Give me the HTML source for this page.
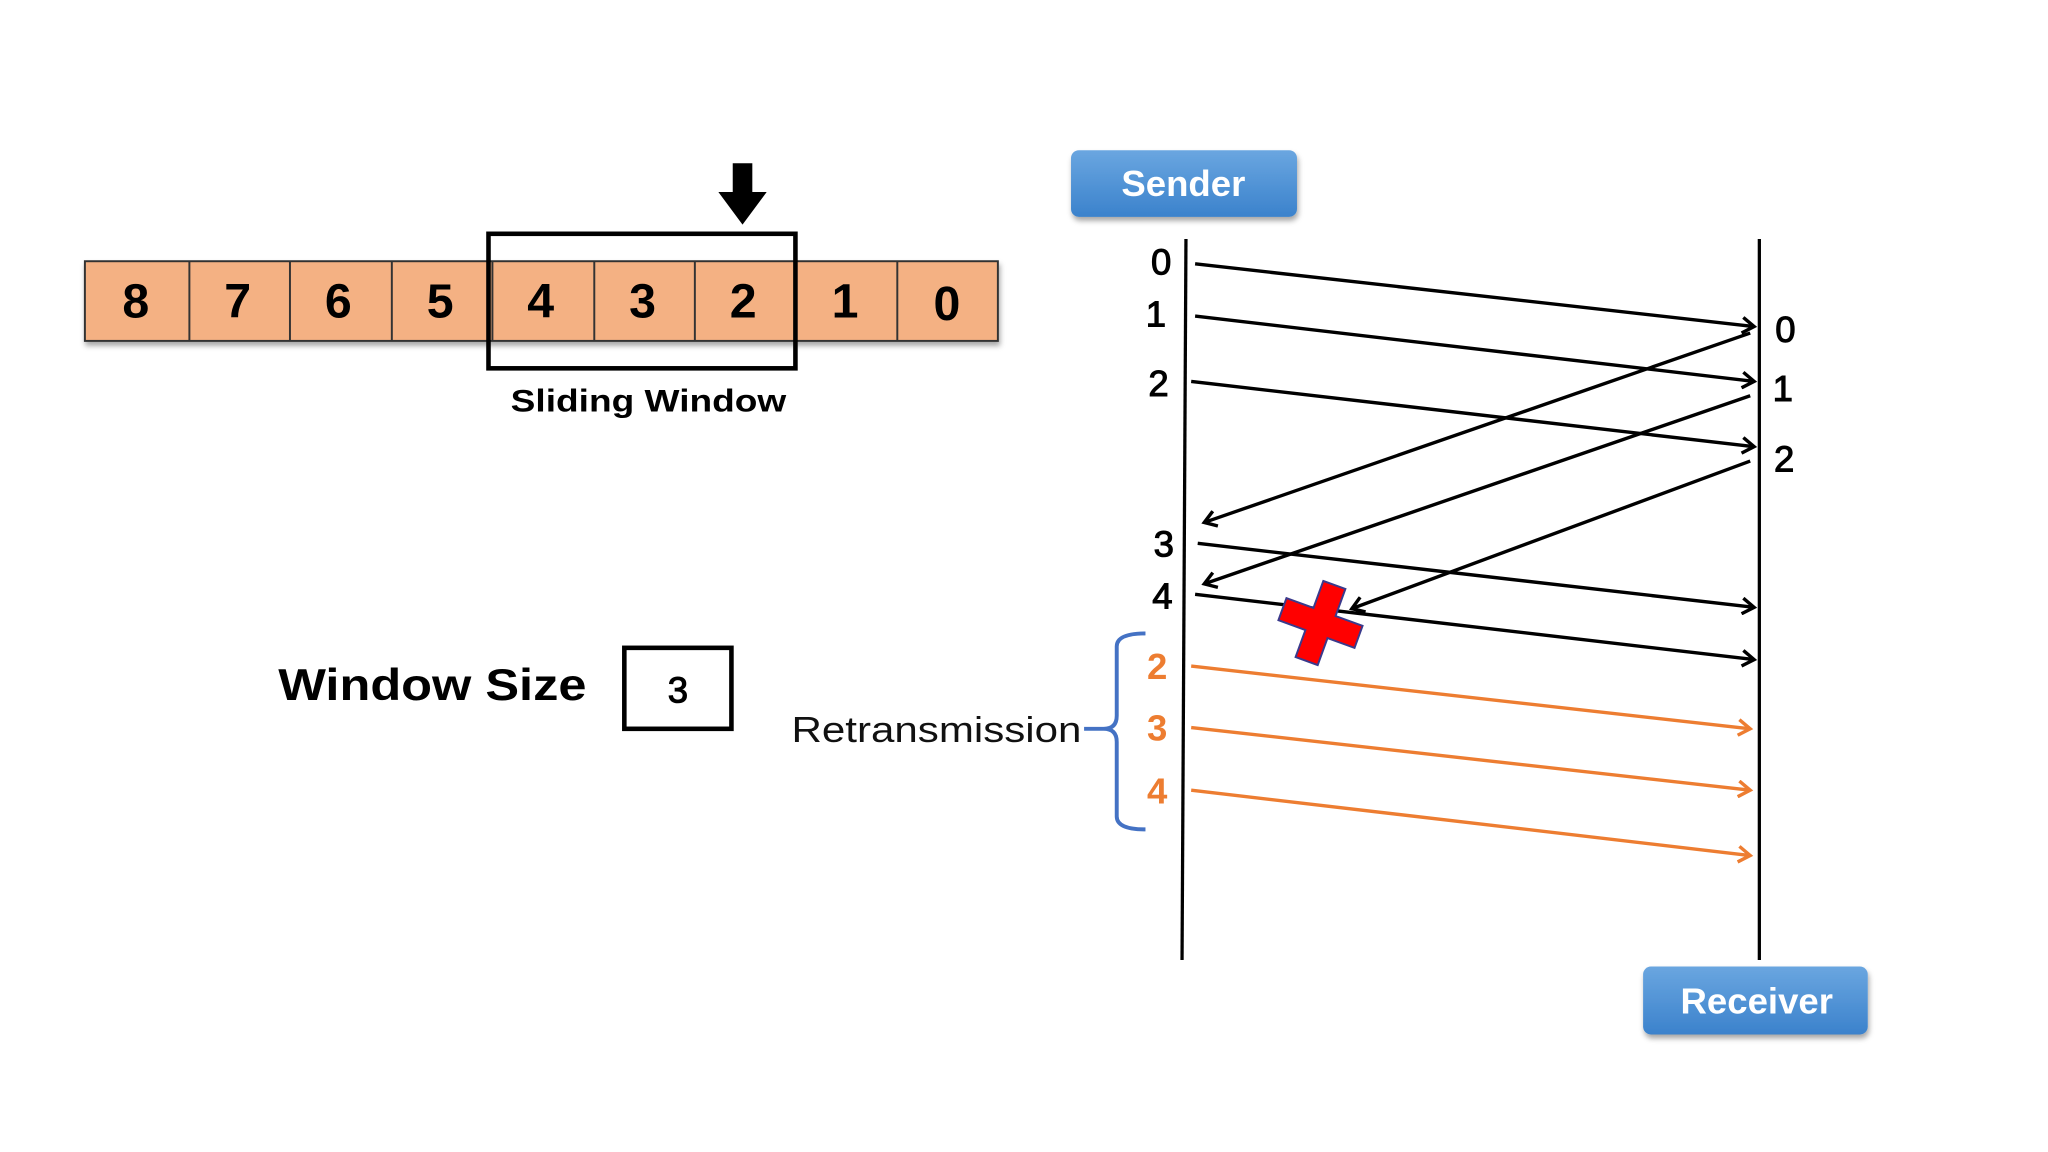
<!DOCTYPE html>
<html><head><style>html,body{margin:0;padding:0;background:#fff;}svg{display:block}</style></head>
<body>
<svg width="2048" height="1152" viewBox="0 0 1568 882" xmlns="http://www.w3.org/2000/svg" font-family="Liberation Sans, sans-serif">
<defs>
<marker id="ab" markerWidth="14" markerHeight="14" refX="11" refY="7" orient="auto" markerUnits="userSpaceOnUse">
<polyline points="2,1 11,7 2,13" fill="none" stroke="#000" stroke-width="2.6"/></marker>
<marker id="ao" markerWidth="14" markerHeight="14" refX="11" refY="7" orient="auto" markerUnits="userSpaceOnUse">
<polyline points="2,1 11,7 2,13" fill="none" stroke="#ED7D31" stroke-width="2.6"/></marker>
<linearGradient id="bg" x1="0" y1="0" x2="0" y2="1"><stop offset="0" stop-color="#6aa6e0"/><stop offset="1" stop-color="#3b82cc"/></linearGradient>
<filter id="sh" x="-10%" y="-10%" width="130%" height="140%"><feDropShadow dx="1" dy="3" stdDeviation="2" flood-color="#000" flood-opacity="0.35"/></filter>
</defs>

<g filter="url(#sh)">
<rect x="65" y="200" width="699" height="61" fill="#F4B183" stroke="#333" stroke-width="1.5"/>
</g>
<g stroke="#333" stroke-width="1.5">
<line x1="145" y1="200" x2="145" y2="261"/><line x1="222" y1="200" x2="222" y2="261"/>
<line x1="300" y1="200" x2="300" y2="261"/><line x1="377" y1="200" x2="377" y2="261"/>
<line x1="455" y1="200" x2="455" y2="261"/><line x1="532" y1="200" x2="532" y2="261"/>
<line x1="609" y1="200" x2="609" y2="261"/><line x1="687" y1="200" x2="687" y2="261"/>
</g>
<g font-size="37" font-weight="bold" text-anchor="middle" fill="#000">
<text x="104" y="243">8</text><text x="182" y="243">7</text><text x="259" y="243">6</text>
<text x="337" y="243">5</text><text x="414" y="243">4</text><text x="492" y="243">3</text>
<text x="569" y="243">2</text><text x="647" y="243">1</text><text x="725" y="245">0</text>
</g>
<rect x="374" y="179" width="235" height="103" fill="none" stroke="#000" stroke-width="3.5"/>
<polygon points="561,125 576,125 576,147 587,147 568.5,172 550,147 561,147" fill="#000"/>
<text x="391" y="315" font-size="24" font-weight="bold" textLength="211" lengthAdjust="spacingAndGlyphs">Sliding Window</text>

<text x="213" y="536" font-size="34" font-weight="bold" textLength="236" lengthAdjust="spacingAndGlyphs">Window Size</text>
<rect x="478" y="496" width="82" height="62" fill="none" stroke="#000" stroke-width="3.5"/>
<text x="519" y="538" font-size="28" text-anchor="middle" stroke="#000" stroke-width="0.8">3</text>

<g filter="url(#sh)">
<rect x="820" y="115" width="173" height="51" rx="6" fill="url(#bg)"/>
<rect x="1258" y="740" width="172" height="52" rx="6" fill="url(#bg)"/>
</g>
<text x="906" y="150" font-size="28" font-weight="bold" fill="#fff" text-anchor="middle">Sender</text>
<text x="1345" y="776" font-size="28" font-weight="bold" fill="#fff" text-anchor="middle">Receiver</text>

<line x1="908" y1="183" x2="905" y2="735" stroke="#000" stroke-width="2.5"/>
<line x1="1347" y1="183" x2="1347" y2="735" stroke="#000" stroke-width="2.5"/>

<g font-size="28" fill="#000" text-anchor="middle" stroke="#000" stroke-width="0.8">
<text x="889" y="210">0</text><text x="885" y="250">1</text><text x="887" y="303">2</text>
<text x="891" y="426">3</text><text x="890" y="466">4</text>
<text x="1367" y="262">0</text><text x="1365" y="307">1</text><text x="1366" y="361">2</text>
</g>
<g font-size="28" font-weight="bold" fill="#ED7D31" text-anchor="middle">
<text x="886" y="520">2</text><text x="886" y="567">3</text><text x="886" y="615">4</text>
</g>

<g stroke="#000" stroke-width="2.6" marker-end="url(#ab)">
<line x1="915" y1="202" x2="1343" y2="250"/>
<line x1="915" y1="242" x2="1343" y2="292"/>
<line x1="912" y1="292" x2="1343" y2="342"/>
<line x1="1340" y1="255" x2="922" y2="400"/>
<line x1="1340" y1="303" x2="922" y2="447"/>
<line x1="1340" y1="353" x2="1035" y2="466"/>
<line x1="917" y1="416" x2="1343" y2="465"/>
<line x1="915" y1="455" x2="1343" y2="505"/>
</g>
<g stroke="#ED7D31" stroke-width="2.6" marker-end="url(#ao)">
<line x1="912" y1="510" x2="1340" y2="558"/>
<line x1="912" y1="557" x2="1340" y2="605"/>
<line x1="912" y1="605" x2="1340" y2="655"/>
</g>

<g transform="translate(1011,477) rotate(20)">
<polygon points="-9,-31 9,-31 9,-9 31,-9 31,9 9,9 9,31 -9,31 -9,9 -31,9 -31,-9 -9,-9" fill="#FF0000" stroke="#3A3A8C" stroke-width="1.5"/>
</g>

<path d="M877,485 Q855,485 855,495 L855,548 Q855,558 845,558 L830,558 M845,558 Q855,558 855,568 L855,625 Q855,635 877,635" fill="none" stroke="#4472C4" stroke-width="3"/>
<text x="828" y="568" font-size="28" text-anchor="end" textLength="222" lengthAdjust="spacingAndGlyphs" fill="#111">Retransmission</text>
</svg>
</body></html>
